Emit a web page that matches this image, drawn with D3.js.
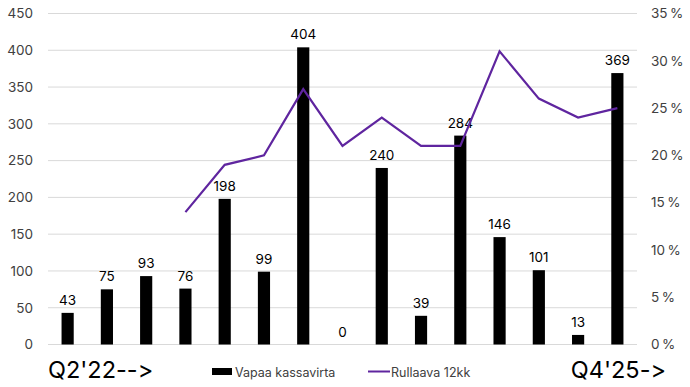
<!DOCTYPE html>
<html><head><meta charset="utf-8">
<script src="https://cdn.jsdelivr.net/npm/d3@7"></script>
<style>body{margin:0;background:#fff}svg{display:block}text{font-family:Inter,"Liberation Sans",sans-serif;font-feature-settings:"calt" 0,"liga" 0;font-variant-ligatures:none}</style>
</head><body><svg id="c" width="690" height="387"></svg>
<script>
const quarters = ["Q2'22","Q3'22","Q4'22","Q1'23","Q2'23","Q3'23","Q4'23","Q1'24","Q2'24","Q3'24","Q4'24","Q1'25","Q2'25","Q3'25","Q4'25"];
const cashflow = [43,75,93,76,198,99,404,0,240,39,284,146,101,13,369];
const rolling = [null,null,null,14,19,20,27,21,24,21,21,31,26,24,25];
const leftTicks = [0,50,100,150,200,250,300,350,400,450];
const rightTicks = [0,5,10,15,20,25,30,35];

const svg = d3.select("#c");
const L=48, R=637, T=13.5, B=344.5;
const x = d3.scaleBand().domain(quarters).range([L,R]).paddingInner(0.69).paddingOuter(0.345);
const y = d3.scaleLinear().domain([0,450]).range([B,T]);
const y2 = d3.scaleLinear().domain([0,35]).range([B,T]);

// grid
svg.append("g").selectAll("line").data(leftTicks).join("line")
  .attr("x1",L).attr("x2",R).attr("y1",d=>y(d)).attr("y2",d=>y(d))
  .attr("stroke","#d9d9d9").attr("stroke-width",1);

// left axis
const ga = svg.append("g").attr("transform",`translate(${L},0)`)
  .call(d3.axisLeft(y).tickValues(leftTicks).tickSize(0).tickPadding(15));
ga.select(".domain").remove();
ga.selectAll("text").attr("font-size",13.5).attr("fill","#404040").style("font-family","Inter,sans-serif");

// right axis
const gb = svg.append("g").attr("transform",`translate(${R},0)`)
  .call(d3.axisRight(y2).tickValues(rightTicks).tickSize(0).tickPadding(14).tickFormat(d=>d+"\u2009%"));
gb.select(".domain").remove();
gb.selectAll("text").attr("font-size",13.5).attr("fill","#404040").style("font-family","Inter,sans-serif");

// bars
svg.append("g").selectAll("rect").data(cashflow).join("rect")
  .attr("x",(d,i)=>x(quarters[i])).attr("width",x.bandwidth())
  .attr("y",d=>y(d)).attr("height",d=>B-y(d)).attr("fill","#000");

// labels
svg.append("g").selectAll("text").data(cashflow).join("text")
  .attr("x",(d,i)=>x(quarters[i])+x.bandwidth()/2).attr("y",d=>y(d)-8)
  .attr("text-anchor","middle").attr("font-size",13.5).attr("fill","#000").text(d=>d);

// line
const pts = rolling.map((v,i)=>({v,q:quarters[i]})).filter(d=>d.v!==null);
svg.append("path").datum(pts)
  .attr("d",d3.line().x(d=>x(d.q)+x.bandwidth()/2).y(d=>y2(d.v)))
  .attr("fill","none").attr("stroke","#5f259f").attr("stroke-width",2.2).attr("stroke-linejoin","miter");

// corner labels
svg.append("text").attr("x",48).attr("y",378).attr("font-size",23.5).attr("fill","#000").text("Q2'22-->");
svg.append("text").attr("x",666).attr("y",378).attr("text-anchor","end").attr("font-size",23.5).attr("fill","#000").text("Q4'25->");

// legend
const lg = svg.append("g");
lg.append("rect").attr("x",212).attr("y",368).attr("width",20).attr("height",7).attr("fill","#000");
lg.append("text").attr("x",235).attr("y",377).attr("font-size",12.5).attr("fill","#404040").text("Vapaa kassavirta");
lg.append("line").attr("x1",368).attr("x2",390).attr("y1",371.5).attr("y2",371.5).attr("stroke","#5f259f").attr("stroke-width",2);
lg.append("text").attr("x",391).attr("y",377).attr("font-size",12.5).attr("fill","#404040").text("Rullaava 12kk");
</script></body></html>
